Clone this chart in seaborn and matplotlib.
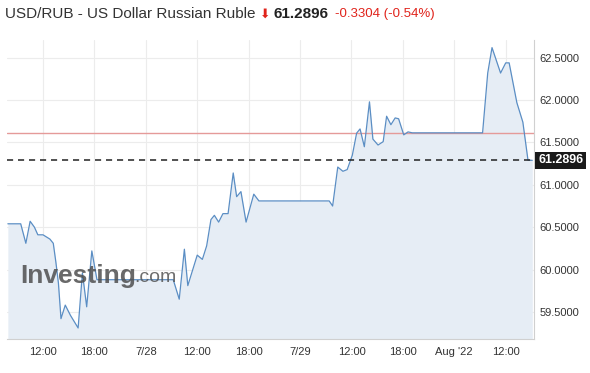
import numpy as np
import pandas as pd
import matplotlib
matplotlib.use("Agg")
import matplotlib.pyplot as plt
import matplotlib.transforms as mtransforms
import seaborn as sns

# ---- data (hours since start of 7/27) ----
hours = [7.9, 9.4, 10.0, 10.5, 11.0, 11.4, 12.0, 12.8, 13.2, 13.5, 13.8, 14.1,
         14.6, 15.2, 16.1, 16.6, 17.1, 17.7, 18.3, 27.2, 27.9, 28.5, 28.9,
         30.0, 30.6, 31.1, 31.6, 32.0, 32.5, 33.0, 33.6, 34.2, 34.6, 35.1,
         35.7, 36.6, 37.2, 45.4, 45.8, 46.4, 47.0, 47.5, 48.1, 48.6, 49.0,
         49.5, 50.1, 50.5, 51.1, 51.7, 52.1, 52.6, 53.1, 53.5, 54.1, 54.6,
         55.1, 63.3, 63.9, 64.4, 65.4, 66.0, 66.4, 67.3, 68.0, 68.6, 69.1]
rates = [60.54, 60.54, 60.31, 60.57, 60.50, 60.41, 60.41, 60.36, 60.31, 60.09,
         59.84, 59.42, 59.58, 59.46, 59.31, 59.96, 59.56, 60.22, 59.88, 59.88,
         59.65, 60.24, 59.81, 60.17, 60.12, 60.28, 60.59, 60.64, 60.56, 60.66,
         60.66, 61.14, 60.86, 60.92, 60.56, 60.89, 60.81, 60.81, 60.75, 61.21,
         61.16, 61.18, 61.35, 61.61, 61.66, 61.45, 61.98, 61.54, 61.47, 61.51,
         61.81, 61.71, 61.79, 61.78, 61.59, 61.625, 61.614, 61.614, 62.32,
         62.62, 62.32, 62.44, 62.44, 61.97, 61.74, 61.29, 61.2896]
prev_close = 61.614
last_price = 61.2896
x_ticks = [12, 18, 24, 30, 36, 42, 48, 54, 60, 66]
x_labels = ["12:00", "18:00", "7/28", "12:00", "18:00", "7/29", "12:00",
            "18:00", "Aug '22", "12:00"]
y_ticks = [59.5, 60.0, 60.5, 61.0, 61.5, 62.0, 62.5]

sns.set_style("white")
plt.rcParams['font.family'] = ['Liberation Sans', 'DejaVu Sans']

fig = plt.figure(figsize=(5.9, 3.73), dpi=100)
ax = fig.add_axes([7 / 590, 1 - 339 / 373, 527 / 590, 299 / 373])

df = pd.DataFrame({"hour": hours, "rate": rates})
ymin, ymax = 59.18, 62.71
ax.fill_between(df["hour"], df["rate"], ymin, color="#e6edf5", zorder=1, lw=0)
sns.lineplot(data=df, x="hour", y="rate", ax=ax, color="#5b8ec4",
             linewidth=0.9, zorder=3)
ax.axhline(prev_close, color="#e59a99", lw=1.0, zorder=2)
ax.axhline(last_price, color="#222222", lw=1.1, ls=(0, (4, 3.2)), zorder=4)

ax.set_xlim(7.8, 69.3)
ax.set_ylim(ymin, ymax)
ax.set_xticks(x_ticks, x_labels)
ax.set_yticks(y_ticks, [f"{v:.4f}" for v in y_ticks])
ax.yaxis.tick_right()
ax.set_xlabel("")
ax.set_ylabel("")
ax.grid(True, color="#ececec", lw=0.8, zorder=0)
ax.set_axisbelow(True)
ax.tick_params(axis="y", length=0, labelsize=8, colors="#333333", pad=4)
ax.tick_params(axis="x", length=0, labelsize=8, colors="#333333", pad=6)
for s in ["left", "top"]:
    ax.spines[s].set_visible(False)
for s in ["right", "bottom"]:
    ax.spines[s].set_color("#d0d0d0")
    ax.spines[s].set_linewidth(0.8)

# current value box
trans = mtransforms.blended_transform_factory(ax.transAxes, ax.transData)
ax.text(1.008, last_price, f"{last_price:.4f}", transform=trans, ha="left",
        va="center", color="white", fontsize=9, fontweight="bold",
        bbox=dict(boxstyle="square,pad=0.22", fc="#1a1a1a", ec="none"),
        zorder=6, clip_on=False)

# watermark
ax.text((20 - 7) / 527, 1 - (276 - 40) / 299, "Investing", transform=ax.transAxes,
        fontsize=19, fontweight="bold", color="#4f4f4f", alpha=0.85,
        ha="left", va="center", zorder=5)
ax.text((134 - 7) / 527, 1 - (278 - 40) / 299, ".com", transform=ax.transAxes,
        fontsize=14, color="#555555", alpha=0.85, ha="left", va="center",
        zorder=5)

# title line
ty = 1 - 14 / 373
fig.text(5 / 590, ty, "USD/RUB - US Dollar Russian Ruble", fontsize=11,
         color="#333333", va="center", ha="left")
fig.text(260 / 590, ty, "⬇", fontsize=9, color="#e0231b", va="center",
         ha="left", family=["DejaVu Sans"])
fig.text(273 / 590, ty, "61.2896", fontsize=11, fontweight="bold",
         color="#222222", va="center", ha="left")
fig.text(335 / 590, ty, "-0.3304 (-0.54%)", fontsize=9.5, color="#e0231b",
         va="center", ha="left")

fig.savefig("out.png", dpi=100)
